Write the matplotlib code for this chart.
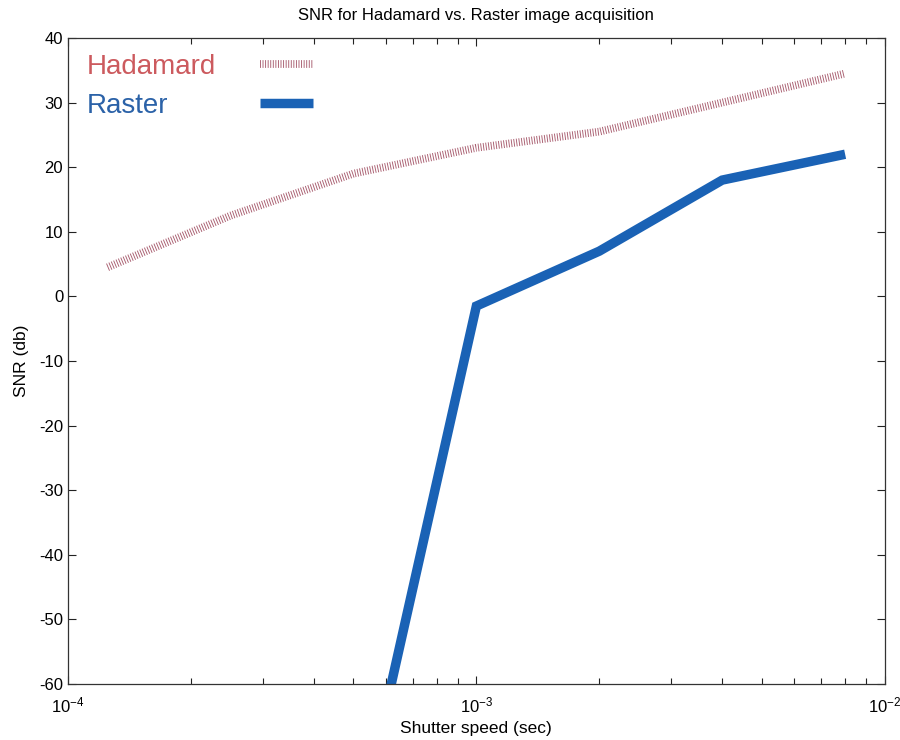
import matplotlib
matplotlib.use('Agg')
import matplotlib.pyplot as plt

# Shutter speeds (s) and SNR (dB) for the two acquisition modes
shutter = [1.25e-4, 2.5e-4, 5e-4, 1e-3, 2e-3, 4e-3, 8e-3]
snr_hadamard = [4.5, 12.5, 19.0, 23.0, 25.5, 30.0, 34.5]

shutter_raster = [5e-4, 1e-3, 2e-3, 4e-3, 8e-3]
snr_raster = [-86.0, -1.5, 7.0, 18.0, 22.0]

labels = ['Hadamard', 'Raster']
label_colors = ['#cc5a5e', '#2b62a8']
y_ticks = [-60, -50, -40, -30, -20, -10, 0, 10, 20, 30, 40]

plt.rcParams['font.family'] = ['Liberation Sans', 'DejaVu Sans']
plt.rcParams['lines.scale_dashes'] = False
plt.rcParams['axes.unicode_minus'] = False

fig = plt.figure(figsize=(9, 7.4), dpi=100, facecolor='white')
ax = fig.add_axes([0.0756, 0.0757, 0.9074, 0.873])

h_line, = ax.plot(shutter, snr_hadamard, color='#a85c6e', lw=5.6,
                  linestyle=(0, (0.65, 1.2)), solid_capstyle='butt')
r_line, = ax.plot(shutter_raster, snr_raster, color='#1a62b5', lw=6.8,
                  solid_capstyle='butt', solid_joinstyle='miter')

ax.set_xscale('log')
ax.set_xlim(1e-4, 1e-2)
ax.set_ylim(-60, 40)
ax.set_yticks(y_ticks)

ax.tick_params(which='both', direction='in', top=True, right=True,
               labelsize=12, color='#222222', width=0.8)
ax.tick_params(which='major', length=6)
ax.tick_params(which='minor', length=4)
ax.tick_params(axis='x', pad=8)
for sp in ax.spines.values():
    sp.set_color('#333333')
    sp.set_linewidth(0.9)

ax.set_title('SNR for Hadamard vs. Raster image acquisition', fontsize=12, pad=13)
ax.set_xlabel('Shutter speed (sec)', fontsize=12.5, labelpad=4)
ax.set_ylabel('SNR (db)', fontsize=12.5, labelpad=7)

# coloured label column, then a separate column with the line keys
text_leg = ax.legend([h_line, r_line], labels, loc='upper left',
                     bbox_to_anchor=(0.023, 0.975), frameon=False, fontsize=20,
                     handlelength=0, handletextpad=0, borderpad=0,
                     borderaxespad=0, labelspacing=0.45)
for txt, c in zip(text_leg.get_texts(), label_colors):
    txt.set_color(c)
for hnd in text_leg.legend_handles:
    hnd.set_visible(False)
ax.add_artist(text_leg)

ax.legend([h_line, r_line], ['', ''], loc='upper left',
          bbox_to_anchor=(0.235, 0.975), frameon=False, fontsize=20,
          handlelength=1.9, handletextpad=0, borderpad=0,
          borderaxespad=0, labelspacing=0.45)

fig.savefig('out.png', dpi=100, facecolor='white')
